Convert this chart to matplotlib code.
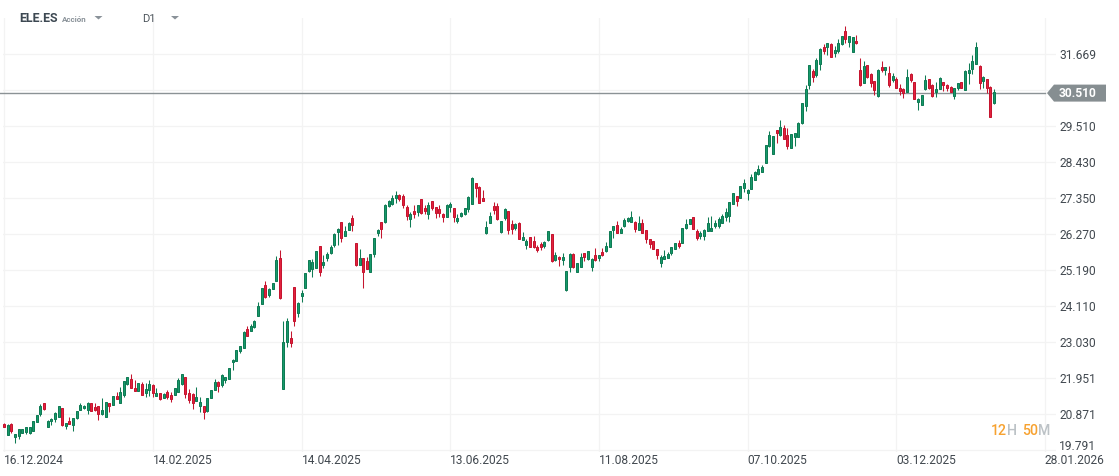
import matplotlib
matplotlib.use("Agg")
import matplotlib.pyplot as plt
from matplotlib.patches import Polygon

plt.rcParams['font.family'] = ['Roboto', 'DejaVu Sans']

symbol = "ELE.ES"
asset_type = "Acción"
timeframe = "D1"
last_price = 30.510
y_ticks = [19.791, 20.871, 21.951, 23.030, 24.110, 25.190, 26.270, 27.350, 28.430, 29.510, 30.590, 31.669]
x_tick_pos = [0, 41, 82, 123, 164, 205, 246, 287]
x_tick_labels = ["16.12.2024", "14.02.2025", "14.04.2025", "13.06.2025", "11.08.2025",
                 "07.10.2025", "03.12.2025", "28.01.2026"]

direction = ("rgrggggggg" "grggggrgrg" "ggggrrrggr" "grgggrrgrg" "grgrgrrggg" "rrrggrgggr"
             "gggggggrgg" "ggrgggrggr" "rggggggrgg" "gggrggrrgr" "rgggrggggr" "rrgrgrrgrr"
             "rrggrggggg" "rrrggrrggr" "rgrggrrrrg" "grgrgggrgg" "rggrgrgggr" "ggggrgrrrr"
             "rgggggrggg" "rrgggggggg" "ggrggggggg" "gggrgrrggg" "gggrggrgrg" "ggrggrrgrr"
             "rgrgrgrrrg" "rrgggrrggr" "rrggrggggr" "grrg")

body_top = [
20.58,20.55,20.58,20.27,20.42,20.42,20.48,20.48,20.66,20.84,
21.12,21.20,20.66,20.74,20.91,21.11,21.05,20.60,20.66,20.75,
20.96,21.14,21.13,21.20,21.20,21.09,21.11,21.00,21.23,21.20,
21.42,21.41,21.53,21.86,21.98,21.92,21.65,21.80,21.78,21.62,
21.78,21.74,21.50,21.50,21.47,21.55,21.45,21.65,21.90,22.07,
21.99,21.50,21.49,21.38,21.24,21.11,21.35,21.59,21.83,21.84,
22.05,21.98,22.25,22.50,22.79,22.91,23.33,23.42,23.52,23.67,
24.11,24.65,24.74,24.63,24.80,25.49,25.55,23.03,23.66,23.15,
24.68,24.20,24.52,25.10,25.49,25.43,25.76,25.91,25.43,25.67,
25.88,26.28,26.42,26.63,26.36,26.60,26.75,26.00,25.55,25.55,
25.46,25.67,26.15,26.40,26.63,27.15,27.27,27.35,27.44,27.45,
27.42,27.08,26.87,26.96,27.14,27.32,27.06,27.14,27.26,27.08,
27.02,26.87,27.15,27.18,27.05,26.75,26.91,27.06,27.38,27.95,
27.80,27.68,27.35,26.48,26.81,27.11,27.11,26.66,27.02,26.96,
26.57,26.57,26.60,26.18,26.06,26.18,26.06,25.88,25.98,26.03,
26.36,26.27,25.64,25.60,25.58,25.16,25.67,25.67,25.40,25.58,
25.70,25.76,25.53,25.64,25.64,25.73,25.91,26.36,26.52,26.54,
26.43,26.69,26.75,26.78,26.64,26.60,26.60,26.39,26.12,26.06,
25.82,25.58,25.61,25.69,25.88,26.00,26.00,26.45,26.57,26.72,
26.78,26.36,26.30,26.39,26.60,26.45,26.60,26.72,26.81,26.93,
27.23,27.50,27.41,27.71,27.80,27.59,27.98,28.13,28.22,28.28,
28.94,29.24,29.21,29.39,29.48,29.45,29.24,29.27,29.30,29.60,
30.20,30.62,31.34,31.16,31.49,31.82,31.88,32.00,31.97,31.79,
32.00,32.21,32.36,32.21,32.18,32.06,31.19,31.31,31.34,31.07,
30.86,31.19,31.28,31.28,31.10,31.01,30.92,30.67,30.62,30.98,
31.07,30.83,30.33,30.44,30.89,30.92,30.74,30.62,30.95,30.83,
30.74,30.68,30.65,30.80,30.83,31.16,31.19,31.46,31.88,31.31,
30.98,30.92,30.68,30.53]

body_bottom = [
20.50,20.26,20.36,20.20,20.22,20.32,20.34,20.32,20.38,20.65,
20.88,21.04,20.50,20.66,20.72,20.80,20.56,20.52,20.59,20.56,
20.76,21.01,21.05,21.01,20.98,21.01,20.89,20.87,20.80,21.13,
21.16,21.34,21.22,21.46,21.77,21.67,21.58,21.58,21.46,21.52,
21.60,21.50,21.43,21.33,21.37,21.38,21.34,21.46,21.54,21.78,
21.49,21.30,21.21,21.28,21.13,20.95,20.96,21.37,21.60,21.71,
21.75,21.89,21.94,22.43,22.48,22.78,22.87,23.23,23.38,23.49,
23.83,24.19,24.39,24.44,24.64,24.88,24.35,21.64,23.05,23.02,
23.68,23.92,24.43,24.67,25.18,25.24,25.27,25.15,25.36,25.57,
25.72,25.96,26.35,26.17,26.23,26.41,26.56,25.36,25.36,25.15,
25.24,25.15,25.69,26.32,26.44,26.64,27.13,27.18,27.36,27.33,
27.16,26.83,26.74,26.88,26.95,26.90,26.98,26.89,27.07,26.92,
26.91,26.78,26.80,27.10,26.80,26.67,26.83,26.88,27.04,27.19,
27.67,27.22,27.28,26.32,26.62,27.00,26.73,26.35,26.75,26.41,
26.42,26.46,26.14,26.11,25.96,25.90,25.88,25.80,25.90,25.92,
26.10,25.47,25.50,25.54,25.50,24.59,25.30,25.30,25.15,25.30,
25.60,25.52,25.30,25.49,25.57,25.65,25.76,25.90,26.41,26.32,
26.32,26.51,26.67,26.65,26.44,26.41,26.32,26.12,25.98,25.84,
25.66,25.40,25.54,25.57,25.72,25.84,25.92,26.02,26.47,26.59,
26.44,26.17,26.23,26.23,26.36,26.38,26.53,26.53,26.62,26.80,
26.83,27.19,27.28,27.37,27.65,27.52,27.64,27.90,28.07,28.15,
28.42,28.91,28.69,29.31,29.25,29.14,28.93,28.87,29.20,29.20,
29.62,30.13,30.76,31.00,31.06,31.39,31.78,31.90,31.60,31.72,
31.78,31.97,32.14,32.05,31.75,32.00,30.76,30.82,31.00,30.82,
30.61,30.42,31.20,31.21,30.76,30.91,30.67,30.57,30.51,30.55,
30.91,30.34,30.25,30.16,30.64,30.67,30.42,30.55,30.64,30.76,
30.67,30.55,30.43,30.67,30.67,30.61,31.12,31.24,31.39,30.82,
30.86,30.67,29.80,30.20]

high = [
20.60,20.57,20.60,20.27,20.42,20.43,20.48,20.48,20.67,20.84,
21.18,21.20,20.70,20.76,20.95,21.12,21.05,20.62,20.78,20.76,
20.97,21.20,21.15,21.24,21.22,21.20,21.12,21.36,21.24,21.21,
21.42,21.55,21.68,21.86,22.00,22.08,21.90,21.82,21.83,21.80,
21.90,21.78,21.67,21.51,21.50,21.59,21.55,21.65,21.95,22.08,
21.99,21.64,21.52,21.68,21.38,21.11,21.35,21.59,21.94,21.88,
22.08,21.99,22.25,22.53,22.80,22.92,23.37,23.52,23.58,23.70,
24.24,24.66,24.87,24.67,24.81,25.62,25.80,23.67,23.76,23.38,
24.68,24.24,24.60,25.12,25.50,25.52,25.78,25.91,25.65,25.74,
25.94,26.32,26.46,26.64,26.52,26.63,26.85,26.00,25.83,25.55,
25.59,25.68,26.16,26.43,26.63,27.17,27.30,27.44,27.57,27.48,
27.48,27.15,26.95,27.15,27.15,27.32,27.15,27.25,27.26,27.08,
27.15,26.92,27.17,27.23,27.05,26.88,26.93,27.07,27.41,27.98,
27.80,27.72,27.60,26.67,26.93,27.23,27.21,26.67,27.05,26.96,
26.70,26.61,26.63,26.33,26.14,26.20,26.21,25.96,26.04,26.07,
26.37,26.27,25.73,25.63,25.70,25.16,25.70,25.70,25.42,25.70,
25.70,25.77,25.55,25.85,25.66,25.85,26.03,26.37,26.52,26.67,
26.49,26.75,26.80,26.97,26.67,26.82,26.73,26.40,26.14,26.07,
25.83,25.65,25.80,25.74,25.90,26.01,26.10,26.46,26.72,26.74,
26.78,26.42,26.38,26.42,26.78,26.82,26.70,26.78,26.88,27.07,
27.24,27.51,27.41,27.72,27.92,27.64,28.08,28.17,28.35,28.35,
28.95,29.37,29.22,29.39,29.70,29.54,29.45,29.28,29.30,29.64,
30.22,30.74,31.35,31.22,31.55,31.85,31.98,32.02,32.00,31.91,
32.13,32.22,32.52,32.22,32.20,32.25,31.56,31.46,31.34,31.10,
30.86,31.22,31.46,31.29,31.31,31.10,30.99,30.77,30.65,31.22,
31.12,30.84,30.35,30.45,31.05,30.92,30.77,30.84,30.98,30.84,
30.77,30.71,30.66,30.82,30.84,31.19,31.41,31.64,32.04,31.34,
31.01,30.92,30.72,30.63]

low = [
20.49,20.25,20.30,20.02,20.14,20.31,20.27,20.29,20.38,20.65,
20.82,21.01,20.49,20.56,20.65,20.80,20.52,20.42,20.58,20.38,
20.74,20.99,21.03,20.89,20.97,20.97,20.70,20.86,20.80,20.95,
21.15,21.33,21.22,21.40,21.75,21.65,21.57,21.57,21.45,21.40,
21.42,21.38,21.42,21.30,21.36,21.33,21.24,21.45,21.53,21.76,
21.37,21.22,21.04,21.27,20.94,20.74,20.94,21.35,21.59,21.54,
21.70,21.82,21.93,22.20,22.47,22.70,22.87,23.23,23.37,23.46,
23.83,24.19,24.36,24.39,24.64,24.88,24.33,21.64,22.89,22.89,
23.52,23.79,24.24,24.67,25.14,24.99,25.26,25.02,25.26,25.46,
25.69,25.89,25.96,26.05,26.22,26.40,26.37,25.33,25.35,24.66,
25.23,25.15,25.59,26.22,26.17,26.62,27.10,27.15,27.20,27.28,
27.07,26.70,26.50,26.76,26.83,26.88,26.88,26.74,27.00,26.77,
26.80,26.64,26.79,26.95,26.64,26.62,26.80,26.85,26.95,27.19,
27.40,27.21,27.27,26.29,26.61,26.88,26.71,26.32,26.70,26.29,
26.29,26.41,26.13,26.10,25.84,25.88,25.86,25.74,25.79,25.87,
26.07,25.44,25.47,25.32,25.34,24.58,25.14,25.26,25.14,25.30,
25.47,25.50,25.17,25.48,25.47,25.62,25.75,25.88,26.16,26.31,
26.31,26.50,26.63,26.64,26.34,26.40,26.31,26.00,25.87,25.83,
25.54,25.29,25.53,25.56,25.65,25.83,25.87,26.02,26.44,26.57,
26.43,26.09,26.14,26.10,26.36,26.37,26.46,26.46,26.61,26.67,
26.64,27.18,27.13,27.36,27.54,27.30,27.63,27.89,28.06,28.14,
28.42,28.90,28.69,29.02,29.23,29.13,28.83,28.87,28.92,29.19,
29.59,29.98,30.63,30.84,31.00,31.20,31.68,31.65,31.59,31.60,
31.70,31.96,32.02,31.90,31.75,31.99,30.72,30.82,30.96,30.70,
30.45,30.40,31.14,31.05,30.69,30.84,30.65,30.46,30.36,30.55,
30.84,30.33,30.00,30.16,30.61,30.64,30.39,30.39,30.63,30.58,
30.56,30.54,30.32,30.61,30.65,30.61,30.78,31.08,31.38,30.64,
30.66,30.50,29.80,30.19]

W, H = 1119, 476
fig = plt.figure(figsize=(W / 100, H / 100), dpi=100, facecolor="white")

# plot area in pixels: x 3..1056, y 18..452
L, R, T, B = 3.0, 1056.0, 18.0, 452.0
ax = fig.add_axes([L / W, 1 - B / H, (R - L) / W, (B - T) / H])
STEP = 3.626
X0 = 4.2
ax.set_xlim((L - X0) / STEP, (R - X0) / STEP)
PX = 0.030
Y0 = 33.303
ax.set_ylim(Y0 - PX * B, Y0 - PX * T)

for s in ax.spines.values():
    s.set_visible(False)
ax.set_axisbelow(True)
ax.grid(True, color="#f3f3f3", lw=0.9)
ax.yaxis.tick_right()
ax.set_yticks(y_ticks)
ax.set_yticklabels([("" if abs(v - 30.59) < 1e-6 else f"{v:.3f}") for v in y_ticks],
                   fontsize=8.65, color="#41484f")
ax.set_xticks(x_tick_pos)
ax.set_xticklabels(x_tick_labels, fontsize=8.65, color="#41484f", ha="left")
ax.tick_params(axis="both", length=0)
ax.tick_params(axis="y", pad=2.3)
ax.tick_params(axis="x", pad=1.5)
# the lowest price label sits just above its grid line, clear of the date label
ax.get_yticklabels()[0].set_verticalalignment("baseline")

# current price line, stops at the last vertical grid line
ax.plot([ax.get_xlim()[0] - 1, x_tick_pos[-1]], [last_price, last_price],
        color="#8b9295", lw=1.0, zorder=2, clip_on=False)

GREEN_F, GREEN_E = "#17996b", "#0f7b54"
RED_F, RED_E = "#e2223e", "#c5152f"
xs = list(range(len(direction)))
up = [d == "g" for d in direction]
open_ = [b if u else t for t, b, u in zip(body_top, body_bottom, up)]
close = [t if u else b for t, b, u in zip(body_top, body_bottom, up)]

ax.vlines(xs, low, high, colors=[GREEN_E if u else RED_E for u in up], lw=0.75, zorder=3)
ax.bar(xs, [c - o for o, c in zip(open_, close)], bottom=open_, width=2.0 / STEP,
       color=[GREEN_F if u else RED_F for u in up],
       edgecolor=[GREEN_E if u else RED_E for u in up], linewidth=0.72, zorder=4)


def fx(x):
    return x / W


def fy(y):
    return 1 - y / H


# header
fig.text(fx(19.5), fy(19), symbol, fontsize=8.9, fontweight="bold", color="#3d4852", va="center", ha="left")
fig.text(fx(61.5), fy(19.5), asset_type, fontsize=5.8, fontweight="bold", color="#8a9299", va="center", ha="left")
fig.text(fx(142.5), fy(19.5), timeframe, fontsize=8.0, color="#4d555c", va="center", ha="left")
for xa in (94.5, 171):
    fig.add_artist(Polygon([(fx(xa), fy(16)), (fx(xa + 8), fy(16)), (fx(xa + 4), fy(19.5))],
                           closed=True, transform=fig.transFigure, fc="#8a9299", ec="none"))

# current price tag
tag_y = (Y0 - last_price) / PX
fig.add_artist(Polygon([(fx(1047), fy(tag_y)), (fx(1054), fy(tag_y - 8.5)), (fx(1106), fy(tag_y - 8.5)),
                        (fx(1106), fy(tag_y + 8.5)), (fx(1054), fy(tag_y + 8.5))],
                       closed=True, transform=fig.transFigure, fc="#868e91", ec="none"))
fig.text(fx(1058.5), fy(tag_y + 0.6), f"{last_price:.3f}", fontsize=8.65, fontweight="bold", color="white",
         va="center", ha="left")

# countdown
for txt, xp, col in (("12", 990.5, "#f7a230"), ("H", 1007.3, "#bcc2c6"),
                     ("50", 1021.8, "#f7a230"), ("M", 1037.8, "#bcc2c6")):
    fig.text(fx(xp), fy(431), txt, fontsize=10.2, fontweight="medium", color=col, va="center", ha="left")

fig.savefig("out.png", dpi=100, facecolor="white")
